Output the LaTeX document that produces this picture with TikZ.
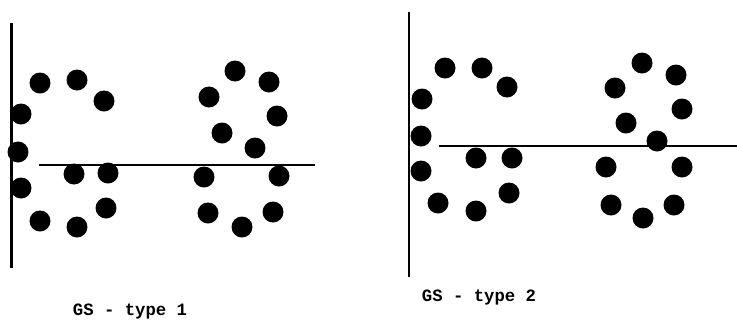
\documentclass[tikz,border=0pt]{standalone}
\usepackage{fontspec}
\setmonofont{Liberation Mono}
\usepackage{tikz}
\usetikzlibrary{positioning}

\begin{document}
\begin{tikzpicture}[
  x=1pt, y=-1pt,
  dot/.style={circle, fill=black, inner sep=0pt, minimum size=21pt},
  axis/.style={line width=2.6pt},
  caption/.style={font=\fontsize{17.3}{19}\selectfont\ttfamily\bfseries},
]
  \useasboundingbox (0,0) rectangle (737,325);

  % GS - type 1
  \coordinate (a1t) at (11.5, 23);
  \coordinate (a1b) at (11.5, 268);
  \coordinate (h1l) at (39, 165);
  \coordinate (h1r) at (315, 165);
  \draw[axis] (a1t) -- (a1b);
  \draw[axis] (h1l) -- (h1r);

  \foreach \n/\x/\y in {c1/40/83, c2/77/80, c3/104/101, c4/21/114, c5/18/152,
                        c6/21/188, c7/40/221, c8/77/227, c9/106/208,
                        c10/74/174, c11/108/173} {
    \node[dot] (l\n) at (\x, \y) {};
  }
  \foreach \n/\x/\y in {s1/235/71, s2/269/82, s3/209/97, s4/277/116,
                        s5/222/133, s6/255/148, s7/204/177, s8/279/176,
                        s9/208/213, s10/242/227, s11/273/212} {
    \node[dot] (l\n) at (\x, \y) {};
  }

  \node[caption] (cap1) at (130, 312) {GS - type 1};

  % GS - type 2
  \coordinate (a2t) at (409, 12);
  \coordinate (a2b) at (409, 277);
  \coordinate (h2l) at (439, 146);
  \coordinate (h2r) at (737, 146);
  \draw[axis] (a2t) -- (a2b);
  \draw[axis] (h2l) -- (h2r);

  \foreach \n/\x/\y in {c1/445/68, c2/482/68, c3/507/87, c4/422/99, c5/421/136,
                        c6/421/171, c7/438/203, c8/476/211, c9/509/193,
                        c10/476/158, c11/512/158} {
    \node[dot] (r\n) at (\x, \y) {};
  }
  \foreach \n/\x/\y in {s1/642/63, s2/676/75, s3/615/88, s4/682/109,
                        s5/626/123, s6/657/141, s7/606/167, s8/682/167,
                        s9/611/205, s10/643/218, s11/674/205} {
    \node[dot] (r\n) at (\x, \y) {};
  }

  \node[caption] (cap2) at (479, 298) {GS - type 2};
\end{tikzpicture}
\end{document}
